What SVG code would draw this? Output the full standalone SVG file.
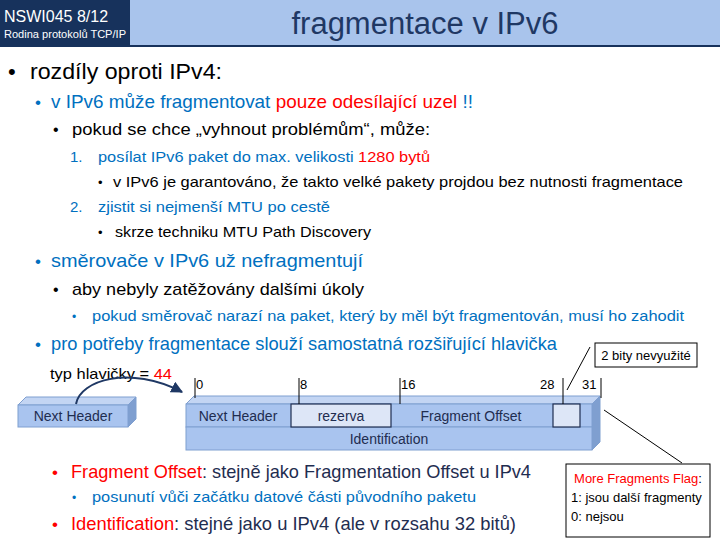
<svg xmlns="http://www.w3.org/2000/svg" width="720" height="540" viewBox="0 0 720 540">
<style>
text{font-family:"Liberation Sans Narrow","Liberation Sans",sans-serif}
.bk{fill:#000}.bl{fill:#0070c0}.rd{fill:#ff0000}.dk{fill:#1f2d50}
.f{fill:#a9c4ef;stroke:#7f9fd0;stroke-width:1}
.t{fill:#c3d5f3;stroke:#7f9fd0}.s{fill:#7f9fd0;stroke:#7f9fd0}
.lt{fill:#dde6f7;stroke:#1f2d50;stroke-width:1.2}
.ln{stroke:#000;stroke-width:1;fill:none}
</style>
<defs><marker id="ah" viewBox="0 0 10 10" refX="9" refY="5" markerWidth="6" markerHeight="6" orient="auto"><path d="M0,0L10,5L0,10z" fill="#1f3864"/></marker></defs>
<rect x="0" y="0" width="720" height="46" fill="#a9c4ec"/>
<rect x="0" y="0" width="130" height="46" fill="#17325c"/>
<line x1="0" y1="46" x2="720" y2="46" stroke="#17325c" stroke-width="2"/>
<text x="4" y="22" font-size="16" fill="#fff">NSWI045   8/12</text>
<text x="4" y="38" font-size="10.5" fill="#fff" textLength="122" lengthAdjust="spacingAndGlyphs">Rodina protokolů TCP/IP</text>
<text x="425" y="34" font-size="31" fill="#1f3864" text-anchor="middle">fragmentace v IPv6</text>

<text x="8" y="79" font-size="22" class="bk">•</text>
<text x="30" y="79" font-size="22" class="bk" textLength="192" lengthAdjust="spacingAndGlyphs">rozdíly oproti IPv4:</text>
<text x="35" y="108" font-size="17" class="bl">•</text>
<text x="51" y="108" font-size="19" textLength="422" lengthAdjust="spacingAndGlyphs"><tspan class="bl">v IPv6 může fragmentovat </tspan><tspan class="rd">pouze odesílající uzel</tspan><tspan class="bl"> !!</tspan></text>
<text x="53" y="135" font-size="16" class="bk">•</text>
<text x="72" y="135" font-size="17" class="bk" textLength="358" lengthAdjust="spacingAndGlyphs">pokud se chce „vyhnout problémům“, může:</text>
<text x="70" y="162" font-size="15" class="bl">1.</text>
<text x="98" y="162" font-size="15" textLength="332" lengthAdjust="spacingAndGlyphs"><tspan class="bl">posílat IPv6 paket do max. velikosti </tspan><tspan class="rd">1280 bytů</tspan></text>
<text x="98" y="187" font-size="13" class="bk">•</text>
<text x="113" y="187" font-size="15" class="bk" textLength="570" lengthAdjust="spacingAndGlyphs">v IPv6 je garantováno, že takto velké pakety projdou bez nutnosti fragmentace</text>
<text x="70" y="212" font-size="15" class="bl">2.</text>
<text x="98" y="212" font-size="15" class="bl" textLength="232" lengthAdjust="spacingAndGlyphs">zjistit si nejmenší MTU po cestě</text>
<text x="98" y="237" font-size="13" class="bk">•</text>
<text x="115" y="237" font-size="15" class="bk" textLength="256" lengthAdjust="spacingAndGlyphs">skrze techniku MTU Path Discovery</text>
<text x="35" y="267" font-size="17" class="bl">•</text>
<text x="51" y="267" font-size="19" class="bl" textLength="312" lengthAdjust="spacingAndGlyphs">směrovače v IPv6 už nefragmentují</text>
<text x="53" y="295" font-size="16" class="bk">•</text>
<text x="72" y="295" font-size="17" class="bk" textLength="292" lengthAdjust="spacingAndGlyphs">aby nebyly zatěžovány dalšími úkoly</text>
<text x="72" y="321" font-size="12" class="bl">•</text>
<text x="92" y="321" font-size="15" class="bl" textLength="592" lengthAdjust="spacingAndGlyphs">pokud směrovač narazí na paket, který by měl být fragmentován, musí ho zahodit</text>
<text x="35" y="350" font-size="17" class="bl">•</text>
<text x="51" y="350" font-size="19" class="bl" textLength="506" lengthAdjust="spacingAndGlyphs">pro potřeby fragmentace slouží samostatná rozšiřující hlavička</text>
<text x="50" y="379" font-size="15" textLength="122" lengthAdjust="spacingAndGlyphs"><tspan class="bk">typ hlavičky = </tspan><tspan class="rd">44</tspan></text>

<g id="nh-left">
<polygon class="t" points="18,405 26,397 136,397 128,405"/>
<polygon class="s" points="128,405 136,397 136,419 128,427"/>
<rect class="f" x="18" y="405" width="110" height="22"/>
<text x="73" y="421" font-size="14" class="dk" text-anchor="middle">Next Header</text>
</g>
<g id="connectors">
<path d="M76,404 C80,380 130,365 182,392" class="ln" stroke="#1f3864" stroke-width="2" style="stroke:#1f3864;stroke-width:2" marker-end="url(#ah)"/>
<line x1="567" y1="390" x2="590" y2="347" class="ln"/>
<line x1="604" y1="410" x2="682" y2="463" class="ln"/>
</g>
<g id="frame">
<polygon class="t" points="186,404 194,396 600,396 592,404"/>
<polygon class="s" points="592,404 600,396 600,442 592,450"/>
<rect class="f" x="186" y="404" width="406" height="23"/>
<rect class="f" x="186" y="427" width="406" height="23"/>
<rect class="lt" x="291" y="404" width="100" height="23"/>
<rect class="lt" x="553" y="404" width="27" height="23"/>
<text x="238" y="421" font-size="14" class="dk" text-anchor="middle">Next Header</text>
<text x="341" y="421" font-size="14" class="dk" text-anchor="middle">rezerva</text>
<text x="471" y="421" font-size="14" class="dk" text-anchor="middle">Fragment Offset</text>
<text x="389" y="444" font-size="14" class="dk" text-anchor="middle">Identification</text>
</g>
<g id="ticks" font-size="13">
<line x1="195" y1="378" x2="195" y2="398" class="ln"/><text x="196" y="389" class="bk">0</text>
<line x1="299" y1="378" x2="299" y2="404" class="ln"/><text x="300" y="389" class="bk">8</text>
<line x1="400" y1="378" x2="400" y2="404" class="ln"/><text x="401" y="389" class="bk">16</text>
<line x1="563" y1="378" x2="563" y2="404" class="ln"/><text x="540" y="389" class="bk">28</text>
<line x1="601" y1="378" x2="601" y2="398" class="ln"/><text x="582" y="389" class="bk">31</text>
</g>
<g id="note1">
<rect x="595" y="343" width="102" height="24" fill="#fff" stroke="#000"/>
<text x="646" y="360" font-size="13" class="bk" text-anchor="middle">2 bity nevyužité</text>
</g>
<g id="note2">
<rect x="566" y="464" width="144" height="73" fill="#fff" stroke="#000"/>
<text x="638" y="483" font-size="13" text-anchor="middle"><tspan class="rd">More Fragments Flag</tspan><tspan class="bk">:</tspan></text>
<text x="571" y="502" font-size="13" class="bk">1:  jsou další fragmenty</text>
<text x="571" y="521" font-size="13" class="bk">0:  nejsou</text>
</g>
<text x="52" y="478" font-size="17" class="rd">•</text>
<text x="71" y="478" font-size="19" textLength="460" lengthAdjust="spacingAndGlyphs"><tspan class="rd">Fragment Offset</tspan><tspan fill="#1f2d50">: stejně jako Fragmentation Offset u IPv4</tspan></text>
<text x="72" y="502" font-size="12" class="bl">•</text>
<text x="92" y="502" font-size="15" class="bl" textLength="384" lengthAdjust="spacingAndGlyphs">posunutí vůči začátku datové části původního paketu</text>
<text x="52" y="530" font-size="17" class="rd">•</text>
<text x="71" y="530" font-size="19" textLength="445" lengthAdjust="spacingAndGlyphs"><tspan class="rd">Identification</tspan><tspan fill="#1f2d50">: stejné jako u IPv4 (ale v rozsahu 32 bitů)</tspan></text>
</svg>
